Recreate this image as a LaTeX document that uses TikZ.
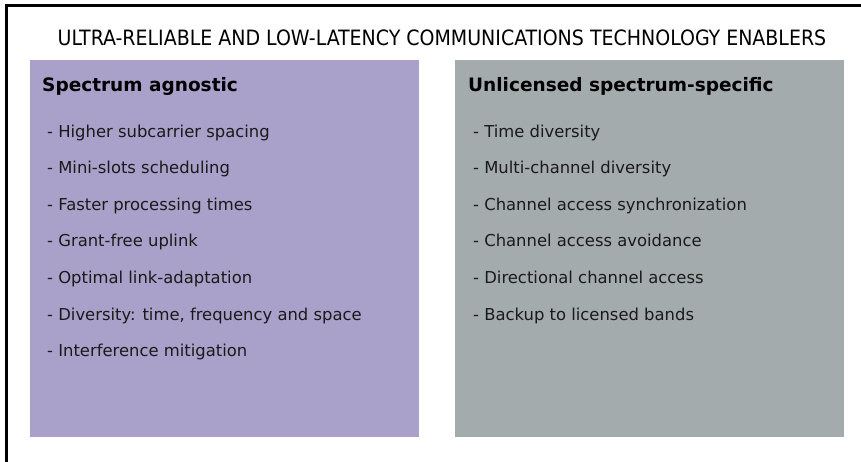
\documentclass[tikz,border=0pt]{standalone}
\usepackage{fontspec}
\setmainfont{DejaVu Sans}
\newfontfamily\titlefont{DejaVu Sans Condensed}
\definecolor{agnosticfill}{HTML}{A9A1CA}
\definecolor{specificfill}{HTML}{A4ABAD}
\definecolor{textdark}{HTML}{1A1A1A}
\begin{document}
\begin{tikzpicture}[x=1pt,y=-1pt,
  heading/.style={anchor=base west, font=\fontsize{18.5}{22}\selectfont\bfseries, text=black, inner sep=0pt},
  item/.style={anchor=base west, font=\fontsize{16.4}{19}\selectfont, text=textdark, inner sep=0pt}]
  \useasboundingbox (0,0) rectangle (861,461);
  % outer frame, open to the right and bottom
  \draw[line width=2.2pt] (6.5,470) -- (6.5,5.5) -- (870,5.5);
  % title
  \node[font=\titlefont\fontsize{21.1}{24}\selectfont, inner sep=0pt] (title) at (442,38) {ULTRA-RELIABLE AND LOW-LATENCY COMMUNICATIONS TECHNOLOGY ENABLERS};
  % panels
  \fill[agnosticfill] (30,60) rectangle (419,437);
  \fill[specificfill] (455,60) rectangle (844,437);
  \node[heading] (h1) at (42,91) {Spectrum agnostic};
  \node[heading] (h2) at (468,91) {Unlicensed spectrum-specific};
  % left list
  \foreach \t [count=\i] in {Higher subcarrier spacing, Mini-slots scheduling, Faster processing times, Grant-free uplink, Optimal link-adaptation, {Diversity: time, frequency and space}, Interference mitigation}
    \node[item] (l\i) at (47,{137+(\i-1)*36.6}) {- \t};
  % right list
  \foreach \t [count=\i] in {Time diversity, Multi-channel diversity, Channel access synchronization, Channel access avoidance, Directional channel access, Backup to licensed bands}
    \node[item] (r\i) at (473,{137+(\i-1)*36.6}) {- \t};
\end{tikzpicture}
\end{document}
